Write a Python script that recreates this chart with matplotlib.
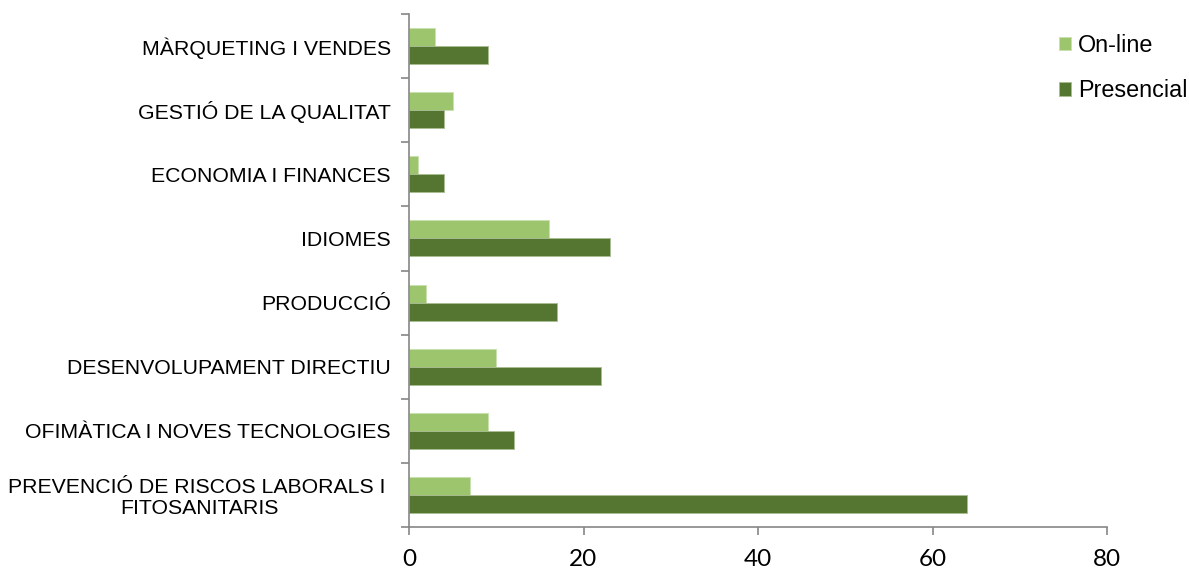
import matplotlib
matplotlib.use("Agg")
import matplotlib.pyplot as plt
import numpy as np

categories = [
    "PREVENCIÓ DE RISCOS LABORALS I \nFITOSANITARIS",
    "OFIMÀTICA I NOVES TECNOLOGIES",
    "DESENVOLUPAMENT DIRECTIU",
    "PRODUCCIÓ",
    "IDIOMES",
    "ECONOMIA I FINANCES",
    "GESTIÓ DE LA QUALITAT",
    "MÀRQUETING I VENDES",
]
online = [7, 9, 10, 2, 16, 1, 5, 3]
presencial = [64, 12, 22, 17, 23, 4, 4, 9]
xticks = [0, 20, 40, 60, 80]

c_online = "#9DC56E"
c_pres = "#557630"
gray = "#868686"

fig = plt.figure(figsize=(11.89, 5.73), dpi=100)
ax = fig.add_axes([409/1189, 1-527/573, (1107-409)/1189, (527-14)/573])

y = np.arange(len(categories))
h = 0.28
ax.barh(y + h/2, online, height=h, color=c_online, edgecolor="#C9E0AE", linewidth=0.6, label="On-line")
ax.barh(y - h/2, presencial, height=h, color=c_pres, edgecolor="#A9BD92", linewidth=0.6, label="Presencial")

ax.set_xlim(0, 80)
ax.set_ylim(-0.5, len(categories) - 0.5)
ax.set_xticks(xticks)
ax.set_xticklabels([str(v) for v in xticks], fontfamily="Lato", fontsize=17.5)
ax.tick_params(axis="x", length=6, color=gray, width=1.2, pad=10)

ax.set_yticks(y)
ax.set_yticklabels(categories, fontfamily="Liberation Sans", fontsize=15.3, linespacing=1.15)
ax.tick_params(axis="y", which="major", length=0, pad=13)
ax.set_yticks(np.arange(-0.5, len(categories), 1.0), minor=True)
ax.tick_params(axis="y", which="minor", length=6, color=gray, width=1.2)
for lbl in ax.get_yticklabels():
    lbl.set_horizontalalignment("right")
    lbl.set_multialignment("center")

for s in ["top", "right"]:
    ax.spines[s].set_visible(False)
for s in ["left", "bottom"]:
    ax.spines[s].set_color(gray)
    ax.spines[s].set_linewidth(1.2)

handles, labels = ax.get_legend_handles_labels()
leg = fig.legend(handles, labels, loc="upper left", bbox_to_anchor=(1059/1189, 1-34/573),
                 frameon=False, prop={"family": "Liberation Sans", "size": 16.8},
                 handlelength=0.5, handleheight=0.5, handletextpad=0.3, labelspacing=0.95,
                 borderaxespad=0, borderpad=0)

fig.savefig("out.png", dpi=100)
